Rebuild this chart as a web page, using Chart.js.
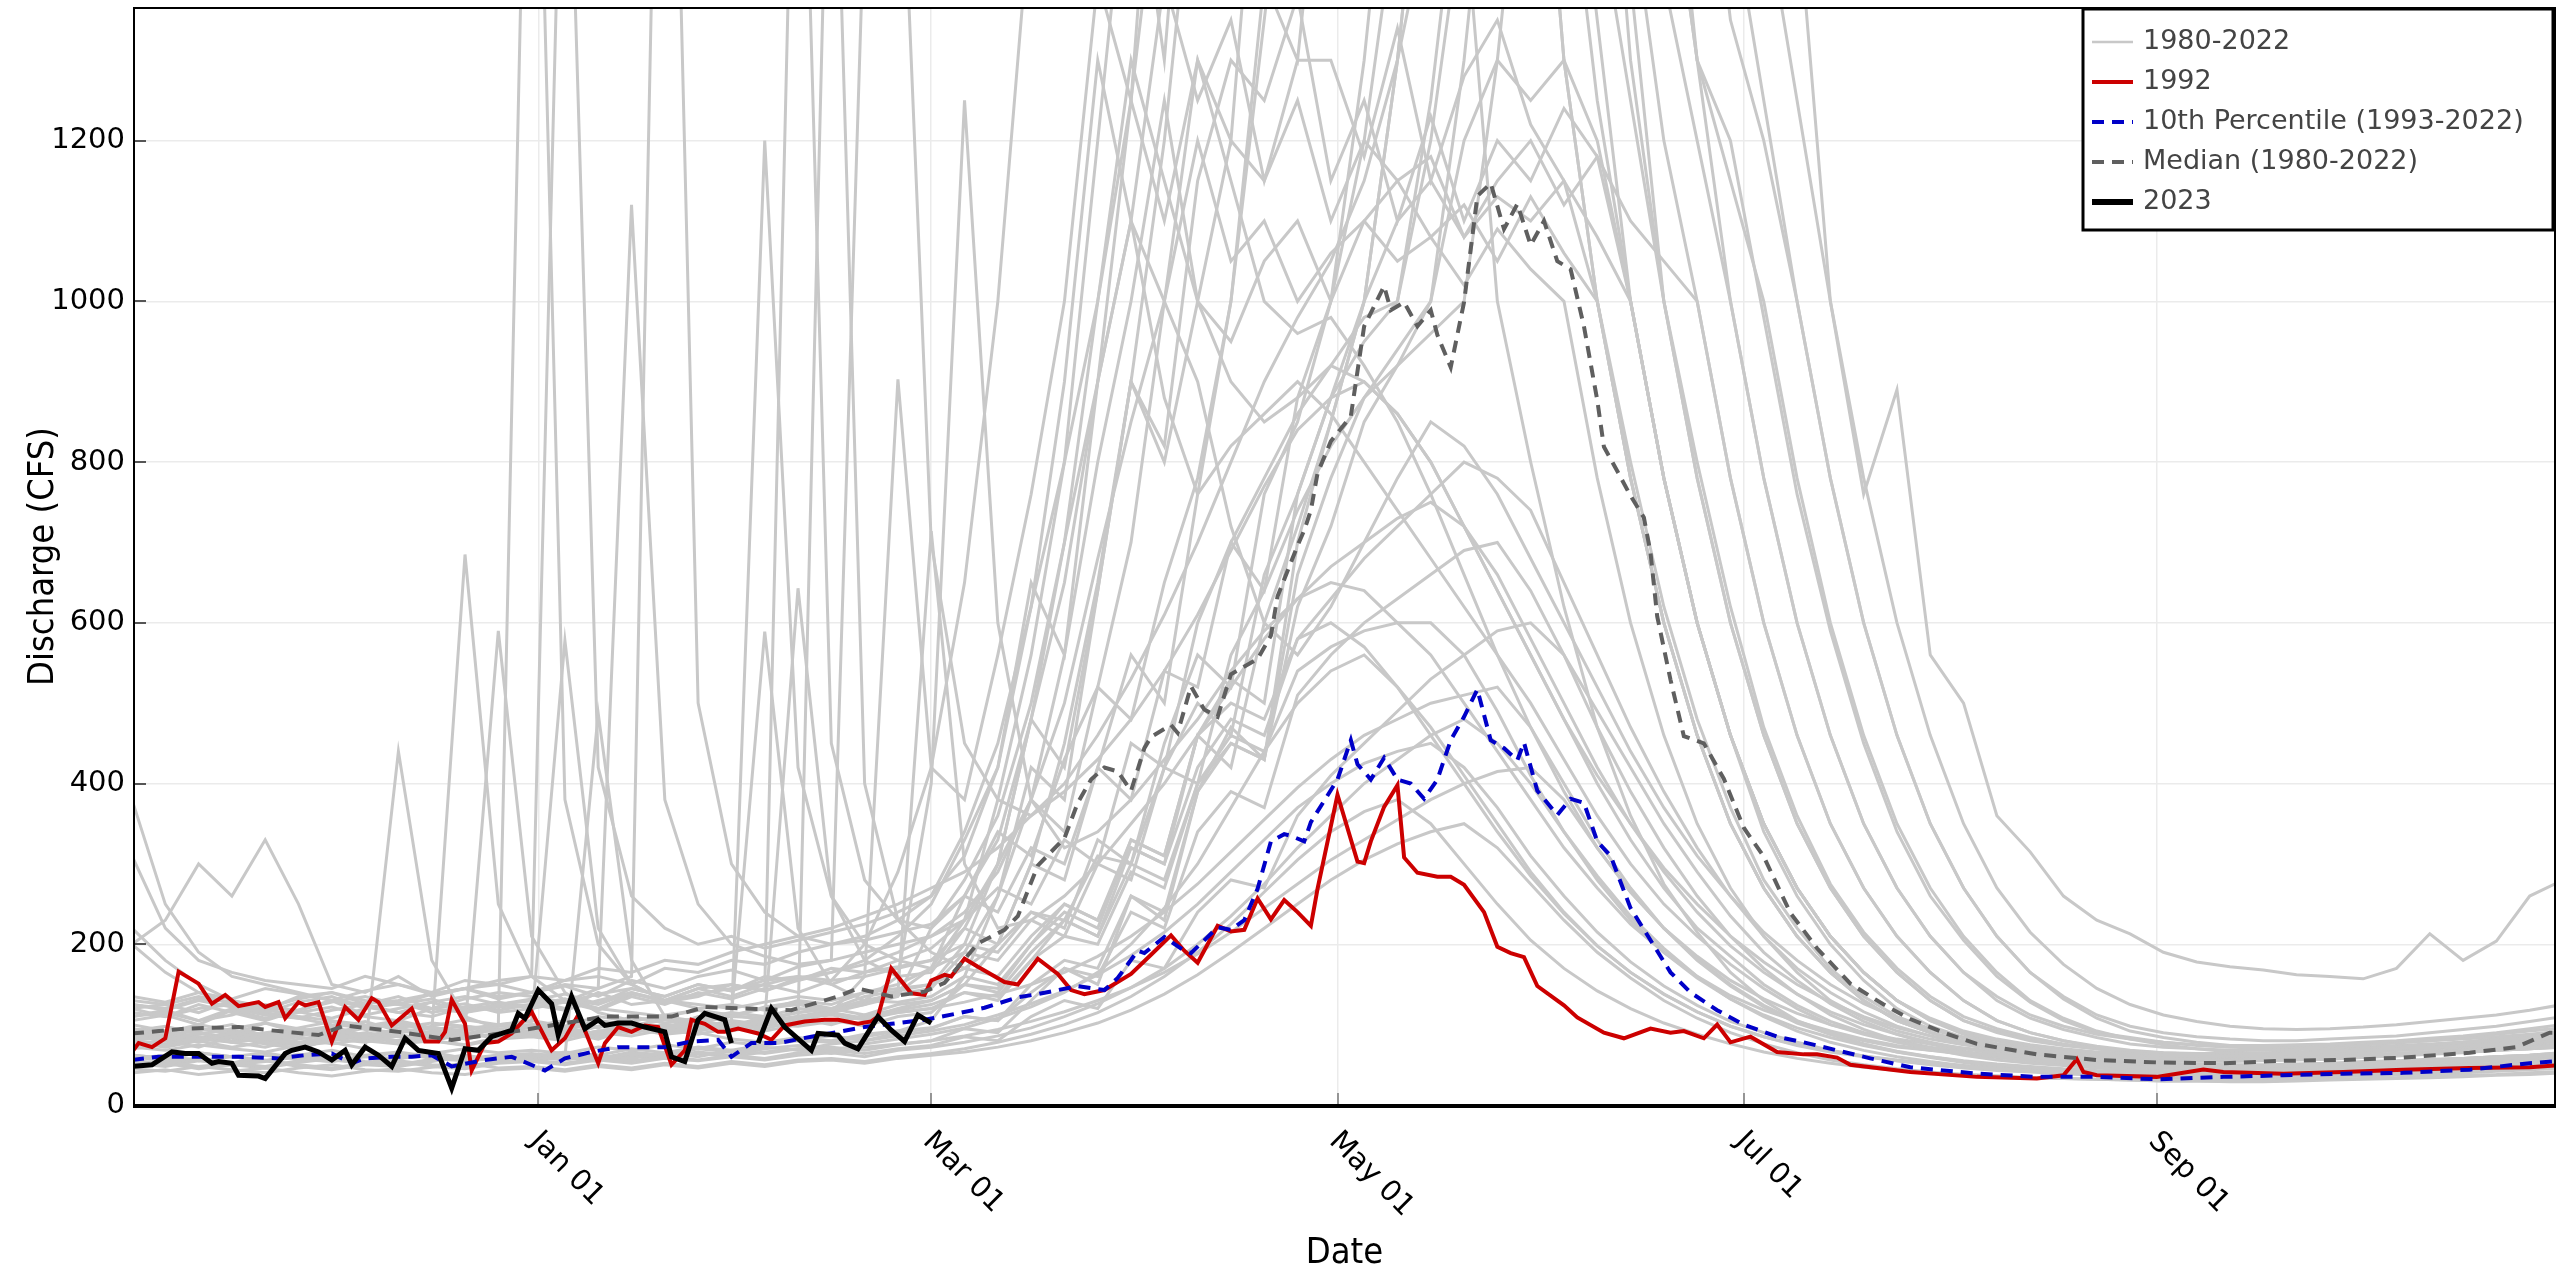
<!DOCTYPE html>
<html>
<head>
<meta charset="utf-8">
<title>Discharge hydrograph</title>
<script src="https://cdn.jsdelivr.net/npm/chart.js@4.4.0/dist/chart.umd.min.js"></script>
<style>
  html, body { margin: 0; padding: 0; background: #fff; }
  canvas { display: block; }
</style>
</head>
<body>
<canvas id="flowChart" width="2560" height="1271"></canvas>
<script>
// x values are days counted from Nov 01
const tickDays = [61, 120, 181, 242, 304];
const tickLabels = ['Jan 01', 'Mar 01', 'May 01', 'Jul 01', 'Sep 01'];
const yTicks = [0, 200, 400, 600, 800, 1000, 1200];
const legendLabels = ['1980-2022', '1992', '10th Percentile (1993-2022)', 'Median (1980-2022)', '2023'];

// every 5 days for the 1980-2022 traces
const grayDays = [0,5,10,15,20,25,30,35,40,45,50,55,60,65,70,75,80,85,90,95,100,105,110,115,120,125,130,135,140,145,150,155,160,165,170,175,180,185,190,195,200,205,210,215,220,225,230,235,240,245,250,255,260,265,270,275,280,285,290,295,300,305,310,315,320,325,330,335,340,345,350,355,360,365];

const grayFlows = [
  [380,250,190,160,150,140,130,125,135,120,115,125, 130,120,140,125,130,145,135,150,160,155,200,290, 420,650,1000,1500,2100,1800,2400,2000,2600,2900,2500,3000, 3200,2800,3000,2200,1500,1000,800,620,470,360,275,215, 165,130,105,90,80,72,68,65,62,60,58,57, 56,55,55,56,57,58,60,62,64,66,68,70,72,74],
  [85,80,90,78,82,88,95,84,80,92,88,85, 90,95,88,100,96,105,98,110,104,115,160,903, 420,380,560,760,1000,1400,1250,1800,2000,2400,2200,2600, 2800,2700,2500,2600,2400,2200,1800,1300,1000,780,600,460, 350,270,210,165,130,105,90,80,72,68,65,62, 60,58,57,56,57,58,60,61,63,65,68,70,72,75],
  [120,110,125,115,105,118,130,112,120,128,115,122, 125,118,130,140,128,135,150,142,155,165,180,210, 250,330,420,620,900,1300,1100,1400,1250,1350,1150,1300, 1300,1180,1340,1150,1280,1350,1220,1150,1000,780,600,460, 350,270,210,165,130,105,90,80,74,70,66,64, 62,60,60,61,62,64,66,68,70,72,74,76,80,84],
  [75,80,72,85,78,70,82,88,76,80,90,84, 88,92,85,96,90,100,94,105,110,115,125,135, 220,260,340,310,430,520,480,650,780,1000,1350,1700, 2500,2800,3000,2900,2600,2200,1800,1300,1000,800,620,480, 370,280,220,170,135,110,95,84,76,70,66,63, 58,56,55,55,56,57,58,60,62,64,66,68,70,72],
  [200,230,300,260,330,250,150,140,160,135,145,150, 140,155,160,150,170,165,180,175,190,200,210,230, 260,310,420,650,560,900,1250,1600,1400,1900,2200,2500, 2200,2500,2700,2600,2800,2400,2000,1600,1250,1000,780,600, 460,350,270,210,165,130,108,92,82,75,70,66, 64,62,62,63,64,65,67,70,72,75,78,80,84,88],
  [95,88,92,100,85,90,96,104,92,88,95,100, 98,105,96,110,102,108,115,110,120,118,125,140, 170,260,330,480,420,640,900,1200,1600,1400,1900,2300, 2600,2300,2600,2400,2200,2300,2000,1700,1350,1000,780,600, 460,350,270,210,165,130,105,90,80,72,68,65, 62,60,58,58,60,62,63,65,68,70,72,75,78,82],
  [60,55,58,52,62,57,54,60,65,58,55,62, 60,66,62,70,65,72,68,75,80,78,85,92, 105,160,260,420,380,640,900,820,1150,1300,1250,1380, 1150,1250,1100,1230,1100,1200,1150,1240,1180,1000,780,600, 460,340,260,200,155,120,98,84,74,66,60,56, 52,50,48,47,48,49,50,52,54,55,57,58,60,62],
  [125,118,130,122,115,128,135,120,126,132,118,125, 130,138,126,145,135,150,142,160,155,170,165,180, 195,230,300,380,340,520,700,1000,1300,1200,1700,2100, 2300,2100,2500,2800,3000,2800,2500,2200,1800,1400,1000,780, 600,460,350,270,210,165,130,105,90,80,74,70, 67,65,64,64,65,66,68,70,72,75,78,82,86,90],
  [80,85,78,90,84,75,88,82,95,90,85,100, 2000,380,200,150,130,120,125,118,130,125,140,150, 170,230,380,560,800,1200,1600,1300,1800,2000,1900,2100, 1600,1900,2200,2400,2300,2100,1900,1700,1500,1250,1000,800, 620,470,360,275,215,170,135,110,95,84,76,70, 66,63,61,60,61,62,64,66,68,70,72,75,78,80],
  [110,115,105,120,112,108,118,125,115,110,122,128, 120,132,125,140,130,138,145,150,140,155,160,170, 180,220,200,300,280,420,560,500,760,1000,1400,1300, 1700,2000,2200,2600,2900,3100,2800,2300,1800,1300,1000,780, 600,460,350,270,210,165,130,105,92,82,75,70, 66,64,63,62,63,64,66,68,70,72,75,78,82,86],
  [100,92,96,88,102,95,90,98,105,96,92,100, 105,98,110,104,112,118,110,122,128,120,135,142, 150,200,300,480,700,1000,1300,1150,1000,1200,1150,1250, 1100,1200,1150,1180,1080,1150,1200,1120,1180,1100,1050,1000, 780,600,460,350,270,210,165,130,105,90,80,73, 68,65,63,62,62,63,64,66,68,70,72,74,76,80],
  [70,75,80,72,78,85,76,82,88,80,75,84, 86,90,82,95,88,92,100,95,105,1800,400,230, 190,170,200,240,220,330,300,450,560,520,760,850, 1000,1300,1700,2200,2600,2800,2600,2300,1900,1500,1200,1000, 780,600,460,350,270,210,165,130,105,90,80,72, 66,62,60,58,58,59,60,62,64,66,68,70,72,75],
  [120,125,115,130,122,118,128,135,125,120,132,140, 135,128,145,1120,380,250,200,185,175,180,190,200, 210,230,270,250,330,300,450,420,600,700,640,880, 1000,1200,1500,1900,2300,2700,3000,2800,2500,2100,1700,1300, 1000,780,600,460,350,270,210,165,135,112,98,88, 82,78,75,74,74,75,76,78,80,83,86,90,95,100],
  [85,90,82,78,88,92,80,86,94,88,82,90, 92,86,98,94,100,96,105,100,110,115,108,120, 130,150,140,190,230,210,320,300,460,420,600,720, 850,1000,1300,1700,2100,2500,2700,2500,2200,1800,1400,1200, 1000,780,600,460,350,270,210,165,130,108,94,84, 76,72,70,68,68,69,70,72,74,76,78,82,85,88],
  [55,52,58,50,54,60,56,52,58,62,55,58, 60,56,62,58,65,60,68,64,70,72,68,75, 80,95,90,130,170,150,260,230,390,470,430,700, 850,1000,1300,1700,2000,2300,2500,2400,2200,1900,1600,1300, 1150,1000,780,600,460,350,270,210,165,130,108,92, 82,75,70,66,64,63,62,62,63,64,66,68,70,72],
  [90,84,95,88,82,92,98,86,90,96,88,94, 98,92,105,100,96,110,104,1200,420,260,200,180, 170,190,180,230,210,300,280,420,500,460,660,760, 880,950,1000,1250,1600,2000,2400,2600,2400,2000,1600,1300, 1200,980,760,590,450,340,260,205,160,128,105,90, 84,78,74,72,71,72,73,75,77,80,82,85,88,92],
  [130,125,135,128,120,132,140,130,125,138,145,135, 140,150,145,160,2200,500,300,240,210,200,205,215, 225,260,240,320,300,420,380,540,520,700,780,860, 920,980,1000,1200,1500,1900,2300,2700,3000,2800,2400,2000, 1500,1250,1000,780,600,460,350,270,210,165,135,112, 98,90,85,82,80,80,82,84,86,90,94,98,104,110],
  [75,80,85,78,72,82,88,80,76,85,90,82, 88,84,92,96,90,98,94,102,108,100,112,118, 125,140,135,180,210,200,290,270,400,450,430,620, 720,850,920,1000,1300,1700,2100,2500,2700,2500,2100,1700, 1350,1200,1000,780,600,460,350,270,210,165,132,108, 92,84,78,74,72,72,73,75,78,80,84,88,92,96],
  [115,110,120,125,112,118,130,122,115,128,135,125, 132,128,138,145,135,150,142,155,160,150,165,172, 180,200,190,240,230,310,300,420,400,560,640,740, 820,880,920,960,1000,1300,1700,2100,2500,2800,2600,2300, 1900,1500,1250,1000,780,600,460,350,270,215,175,145, 125,112,104,98,95,94,95,97,100,104,108,112,118,125],
  [78,72,80,85,76,70,82,78,86,80,74,82, 85,80,90,86,94,88,96,92,100,106,98,110, 115,150,200,300,450,650,900,800,1000,950,1050,1100, 1000,1100,1150,1080,1120,1050,1130,1060,1000,780,600,460, 350,270,210,165,130,105,90,78,70,64,60,57, 54,52,51,50,50,51,52,54,55,57,58,60,62,65],
  [105,112,100,118,108,115,122,110,105,120,126,115, 120,128,118,135,125,140,132,145,1900,450,280,230, 220,280,360,500,700,900,1100,1000,1200,1050,1100,1000, 1060,1100,1050,1080,1020,1090,1040,1000,780,600,460,350, 270,210,165,130,108,92,82,75,70,66,63,60, 58,57,56,56,57,58,60,62,64,66,68,70,73,76],
  [92,98,88,95,102,90,86,96,100,94,88,98, 100,95,104,98,108,102,112,106,115,120,112,125, 130,150,145,200,240,220,330,310,460,530,500,760, 880,1000,1100,1150,1080,1130,1100,1150,1080,1000,780,600, 460,350,270,210,165,130,106,90,80,72,67,63, 60,58,57,56,57,58,59,61,63,65,67,70,72,75],
  [62,58,65,60,55,62,68,60,58,64,70,65, 68,64,72,68,75,70,78,74,82,86,80,90, 95,110,105,150,180,170,260,240,390,450,430,660, 780,880,940,1000,1200,1300,1250,1300,1200,1000,780,600, 460,350,270,210,165,130,105,88,76,68,62,58, 54,52,50,49,49,50,51,52,54,56,58,60,62,64],
  [310,220,180,165,155,150,145,160,150,140,155,150, 160,155,170,165,180,175,190,200,210,220,235,250, 270,290,320,360,400,460,530,610,700,800,900,980, 1050,1150,1300,1500,1800,2200,2600,3000,3300,3500,3200,2800, 2400,2000,1500,1000,760,890,560,500,360,315,260,230, 213,190,178,172,168,162,160,157,170,213,180,204,260,280],
  [82,88,80,92,86,78,84,90,85,80,88,94, 90,96,88,100,94,102,98,106,643,260,180,160, 165,220,300,480,650,900,1100,880,760,820,860,900, 860,800,740,680,620,560,500,430,360,300,250,210, 175,145,120,100,88,78,70,64,60,56,53,50, 48,46,45,44,44,45,46,48,50,52,54,56,58,60],
  [110,118,105,112,125,116,108,120,128,115,122,118, 125,132,120,138,130,145,150,142,158,165,175,190, 210,240,290,380,500,680,850,1000,900,720,600,560, 620,700,780,850,820,760,680,600,520,440,370,310, 260,215,180,150,126,108,94,84,76,70,65,61, 58,56,55,54,55,56,57,59,61,63,65,68,70,73],
  [95,90,100,92,88,96,104,94,90,98,106,100, 104,578,220,150,130,125,120,128,135,130,140,145, 150,170,160,210,250,230,320,300,420,480,460,580, 630,680,720,760,800,780,740,650,560,470,390,320, 260,210,170,140,116,98,86,76,68,62,58,55, 52,50,49,48,48,49,50,52,54,56,58,60,62,65],
  [58,62,55,60,65,58,54,62,66,60,56,62, 64,60,487,180,110,90,82,78,84,80,88,92, 96,110,105,140,170,160,240,220,340,390,370,510, 560,600,630,660,690,700,640,560,470,390,320,260, 210,170,138,112,94,80,70,62,56,52,49,46, 44,42,41,40,40,41,42,43,45,47,48,50,52,54],
  [88,92,85,80,90,95,86,82,94,90,685,250, 160,130,120,115,110,118,112,120,125,118,130,138, 145,190,260,380,560,800,1000,1250,1000,900,850,880, 920,900,860,800,720,640,560,480,400,330,270,220, 185,150,124,104,90,80,72,66,61,57,54,51, 49,47,46,45,45,46,47,49,51,53,55,57,60,62],
  [125,120,132,128,118,135,140,126,130,138,145,132, 140,148,135,155,145,160,168,155,172,180,1500,1700, 700,450,380,360,390,430,480,540,610,690,770,840, 880,900,860,800,720,640,560,480,410,350,295,250, 210,178,150,128,110,96,86,78,72,67,63,60, 58,56,55,55,56,57,58,60,62,64,67,70,73,76],
  [220,180,150,130,120,110,105,100,96,102,98,94, 100,96,104,98,106,102,110,108,115,120,128,140, 714,300,220,230,260,300,350,400,460,520,580,630, 670,700,730,750,720,660,580,500,420,350,290,240, 198,165,138,116,100,88,78,70,64,60,56,53, 50,48,47,46,46,47,48,50,52,54,56,58,60,63],
  [80,76,84,88,80,74,82,86,78,84,90,85, 88,84,92,90,96,92,100,104,110,118,130,160, 400,1250,600,380,320,340,380,430,480,540,590,630, 650,640,600,560,500,440,380,320,270,225,190,160, 136,118,104,92,82,74,68,63,59,55,52,50, 48,46,45,44,44,45,46,47,49,51,53,55,57,60],
  [50,54,48,52,56,50,46,52,55,50,48,54, 56,52,58,55,60,56,62,58,65,68,64,70, 74,85,80,110,130,120,180,170,240,280,270,360, 410,450,490,530,560,590,600,560,490,420,350,290, 235,190,155,126,104,88,76,67,60,55,51,48, 45,43,42,41,41,42,43,44,46,48,50,52,54,56],
  [135,128,140,132,145,138,130,142,150,138,145,155, 160,1800,420,260,220,200,210,195,205,215,225,240, 260,340,450,620,800,1000,1250,1100,1300,1150,1000,960, 980,920,850,760,660,560,470,390,320,265,220,185, 155,132,114,100,90,82,76,71,67,64,61,59, 57,56,55,55,56,57,59,61,63,66,69,72,76,80],
  [55,50,58,52,48,55,60,54,50,57,62,56, 58,62,56,64,60,66,62,70,74,68,76,82, 88,96,108,122,140,165,200,245,300,370,440,500, 540,560,520,470,410,350,290,240,198,165,138,116, 98,85,74,66,60,55,51,48,45,43,41,40, 38,37,36,36,36,37,38,39,40,42,43,45,47,49],
  [48,52,45,50,55,48,44,50,54,48,45,52, 54,50,56,52,58,55,60,56,62,65,60,68, 72,78,86,96,110,126,146,170,200,235,275,320, 360,400,430,460,480,450,400,340,285,235,195,160, 132,110,92,78,68,60,54,49,45,42,40,38, 36,35,34,34,34,35,36,37,38,40,41,43,45,47],
  [62,58,65,60,55,63,58,52,60,66,58,62, 60,64,58,66,62,70,66,72,68,76,80,86, 92,100,112,126,142,162,186,215,250,290,330,370, 400,425,440,450,420,370,310,260,215,178,148,124, 104,90,78,68,61,55,50,46,43,41,39,37, 35,34,33,33,33,34,35,36,37,39,40,42,44,46],
  [72,68,75,70,66,74,78,70,440,180,110,95, 88,92,86,94,90,96,92,100,98,104,110,115, 120,128,138,150,165,185,210,240,275,315,355,395, 430,460,480,500,510,520,470,400,330,270,220,180, 148,122,102,88,76,67,60,54,50,47,44,42, 40,39,38,38,38,39,40,41,43,45,47,49,51,54],
  [45,42,48,44,40,46,50,44,42,47,52,46, 48,44,50,46,52,48,54,50,56,58,54,60, 64,70,78,88,100,115,135,160,190,225,265,305, 340,365,380,350,300,250,205,170,142,120,102,88, 76,66,58,52,47,43,40,38,36,34,33,32, 31,30,30,29,29,30,31,32,33,34,35,37,38,40],
  [40,44,38,42,46,40,36,42,45,40,38,44, 46,42,48,44,50,46,52,48,54,56,52,58, 62,66,72,80,90,102,118,138,162,190,220,250, 280,305,325,340,350,320,275,230,190,158,130,108, 90,76,65,56,50,45,41,38,36,34,33,32, 31,30,30,30,30,31,32,33,34,36,37,38,40,42],
  [200,165,140,125,115,108,100,96,102,94,98,92, 96,90,98,94,100,96,104,100,108,112,106,115, 120,140,130,180,230,210,300,280,400,460,440,540, 570,590,600,600,560,490,410,340,280,230,190,158, 132,112,96,84,74,66,60,55,51,48,45,43, 42,41,40,40,40,41,42,43,45,47,49,51,53,56],
  [86,80,90,84,78,86,92,84,80,88,94,590, 210,140,115,105,110,104,112,589,220,150,130,128, 135,160,150,200,250,230,330,310,460,500,480,580, 600,570,520,460,400,340,285,238,198,165,138,116, 98,85,75,67,61,56,52,49,46,44,42,40, 39,38,37,37,37,38,39,40,42,44,46,48,50,52],
  [52,48,55,50,46,53,58,50,48,54,60,55, 56,60,54,62,58,64,60,66,70,64,72,76, 80,86,94,104,116,130,146,165,188,215,245,275, 305,330,355,380,400,415,420,380,320,265,220,182, 150,124,104,88,76,66,59,53,48,45,42,40, 38,37,36,36,36,37,38,39,40,42,44,46,48,50]
];

const days1992 = [0,1,3,5,7,10,12,14,16,19,20,22,23,25,26,28,30,32,34,36,37,39,42,44,46,47,48,50,51,53,55,57,60,63,65,67,68,70,71,73,75,77,79,81,83,84,86,88,89,91,94,96,98,101,104,106,109,111,112,114,117,119,120,122,123,125,127,131,133,136,139,141,143,146,150,153,156,158,160,163,165,167,169,171,173,175,177,178,181,184,185,186,188,190,191,193,196,198,200,203,205,207,209,211,215,217,221,224,228,231,233,236,238,240,243,247,251,253,256,258,267,277,286,290,292,293,295,304,311,314,323,332,341,351,360,365];
const flow1992 = [66,77,72,83,166,151,126,137,123,128,122,128,108,128,124,128,79,122,106,133,128,99,120,79,79,91,131,101,43,77,79,89,116,68,83,112,93,52,77,97,91,99,97,50,68,106,101,91,91,95,89,81,99,104,106,106,101,104,110,170,139,137,155,162,160,182,172,153,150,182,163,143,138,143,163,187,211,192,177,223,216,218,257,231,255,240,223,269,386,303,301,328,371,398,308,289,284,284,274,240,197,189,184,148,124,109,90,83,95,90,92,83,100,78,85,66,63,63,59,50,41,35,33,37,57,41,37,35,44,41,39,41,44,46,47,50];

const daysP10 = [0,4,9,16,22,26,30,33,35,39,42,45,48,53,57,62,65,69,73,76,80,84,88,90,93,97,102,106,110,114,119,124,128,133,136,139,142,146,148,151,152,155,158,159,163,165,167,169,171,173,174,176,177,181,183,184,186,188,190,192,194,196,198,200,202,204,206,208,209,211,214,216,218,220,222,225,228,231,234,238,242,247,251,256,261,267,277,286,295,304,314,323,332,341,351,360,365];
const flowP10 = [56,60,60,60,58,62,64,52,58,60,60,62,48,56,60,43,58,66,72,72,72,79,81,60,77,77,85,91,97,101,106,114,121,134,138,143,148,143,158,192,189,209,192,189,221,218,230,269,328,337,335,328,352,405,454,424,405,432,405,400,381,405,454,483,517,454,444,429,451,391,361,381,376,328,310,245,205,165,140,118,100,85,78,68,58,47,39,35,35,32,35,37,39,40,44,52,55];

const daysMedian = [0,8,16,28,32,40,48,57,71,81,86,99,106,109,114,119,122,127,131,133,136,140,142,144,146,148,150,152,153,156,157,159,161,163,165,169,171,172,175,176,177,178,180,183,185,188,189,191,193,195,196,198,200,202,204,206,208,210,212,214,216,218,220,221,223,225,227,228,229,231,233,236,239,242,245,249,253,258,263,267,272,277,286,295,304,314,323,332,341,351,358,363,365];
const flowMedian = [89,95,97,87,99,91,81,91,110,110,122,118,135,145,135,141,152,201,218,235,298,332,376,405,420,415,391,444,458,473,463,521,492,483,536,555,584,633,696,715,740,786,826,857,969,1019,989,999,969,989,958,918,999,1131,1147,1090,1121,1070,1100,1050,1040,969,877,819,789,758,731,687,608,529,459,450,406,345,309,239,195,151,125,107,90,76,63,56,53,52,55,56,59,65,72,90,90];

// 2023 so far, null marks the missing days
const days2023 = [0,3,6,8,10,12,13,15,16,19,20,23,24,26,28,30,32,33,35,37,39,41,43,46,48,50,52,54,57,58,59,61,63,64,66,68,70,71,73,75,77,80,81,83,85,86,89,90,92,94,96,98,102,103,106,107,109,112,114,116,118,120];
const flow2023 = [48,50,66,64,64,52,54,52,37,36,33,64,68,72,66,56,68,50,72,62,48,83,68,64,21,70,68,85,93,114,108,143,126,87,135,95,106,99,102,102,97,91,60,54,106,114,106,77,null,77,120,97,68,89,87,77,70,110,93,79,112,102];

function toPoints(days, values, name) {
    if (days.length !== values.length) {
        throw new Error(`${name}: ${days.length} days but ${values.length} values`);
    }
    return days.map((d, i) => ({ x: d, y: values[i] }));
}

const textFont = '"DejaVu Sans", Verdana, sans-serif';
const titleFont = '"DejaVu Sans Condensed", "DejaVu Sans", sans-serif';

const datasets = [
    {
        label: '2023',
        data: toPoints(days2023, flow2023, '2023'),
        borderColor: '#000000',
        borderWidth: 5,
        spanGaps: false,
        order: 0
    },
    {
        label: 'Median (1980-2022)',
        data: toPoints(daysMedian, flowMedian, 'median'),
        borderColor: '#5f5f5f',
        borderWidth: 4,
        borderDash: [12, 8],
        order: 1
    },
    {
        label: '10th Percentile (1993-2022)',
        data: toPoints(daysP10, flowP10, 'p10'),
        borderColor: '#0000c8',
        borderWidth: 4,
        borderDash: [12, 8],
        order: 2
    },
    {
        label: '1992',
        data: toPoints(days1992, flow1992, '1992'),
        borderColor: '#cc0000',
        borderWidth: 4,
        order: 3
    }
];

grayFlows.forEach((row, i) => {
    datasets.push({
        label: '1980-2022',
        data: toPoints(grayDays, row, 'gray row ' + i),
        borderColor: '#c8c8c8',
        borderWidth: 3,
        order: 4
    });
});

// frame, inward ticks, slanted date labels and the boxed legend
const decorations = {
    id: 'decorations',
    afterDatasetsDraw(chart) {
        const { ctx, chartArea: { left, top, right, bottom }, scales: { x, y } } = chart;
        ctx.save();

        ctx.lineWidth = 2;
        ctx.strokeStyle = '#555';
        y.ticks.forEach(t => {
            const py = Math.round(y.getPixelForValue(t.value));
            ctx.beginPath();
            ctx.moveTo(left, py);
            ctx.lineTo(left + 12, py);
            ctx.stroke();
        });
        ctx.strokeStyle = '#777';
        ctx.lineWidth = 1.5;
        x.ticks.forEach(t => {
            const px = Math.round(x.getPixelForValue(t.value));
            ctx.beginPath();
            ctx.moveTo(px, bottom);
            ctx.lineTo(px, bottom - 12);
            ctx.stroke();
        });

        ctx.strokeStyle = '#000';
        ctx.lineWidth = 2;
        ctx.strokeRect(left, top, right - left, bottom - top);
        ctx.lineWidth = 4;
        ctx.beginPath();
        ctx.moveTo(left - 1, bottom + 1);
        ctx.lineTo(right + 1, bottom + 1);
        ctx.stroke();

        ctx.fillStyle = '#000';
        ctx.font = '29px ' + textFont;
        ctx.textAlign = 'left';
        ctx.textBaseline = 'middle';
        tickDays.forEach((d, i) => {
            const px = x.getPixelForValue(d);
            ctx.save();
            ctx.translate(px - 4, bottom + 32);
            ctx.rotate(Math.PI / 4);
            ctx.fillText(tickLabels[i], 0, 0);
            ctx.restore();
        });

        const lx = right - 472, ly = top + 1, lw = 470, lh = 221;
        ctx.fillStyle = '#fff';
        ctx.fillRect(lx, ly, lw, lh);
        ctx.lineWidth = 3;
        ctx.strokeStyle = '#000';
        ctx.strokeRect(lx, ly, lw, lh);
        ctx.font = '27px ' + textFont;
        legendLabels.forEach((label, i) => {
            const ds = chart.data.datasets.find(d => d.label === label);
            const cy = ly + 33 + i * 40;
            ctx.strokeStyle = ds.borderColor;
            ctx.lineWidth = label === '2023' ? 6 : (label === '1980-2022' ? 2.5 : ds.borderWidth);
            ctx.setLineDash(ds.borderDash || []);
            ctx.beginPath();
            ctx.moveTo(lx + 9, cy);
            ctx.lineTo(lx + 50, cy);
            ctx.stroke();
            ctx.setLineDash([]);
            ctx.fillStyle = '#444';
            ctx.fillText(label, lx + 60, cy);
        });

        ctx.restore();
    }
};

const flowChart = new Chart(document.getElementById('flowChart'), {
    type: 'line',
    data: { datasets },
    options: {
        responsive: false,
        devicePixelRatio: 1,
        animation: false,
        events: [],
        layout: { padding: { top: 8, right: 5, left: 0, bottom: 0 } },
        elements: {
            point: { radius: 0 },
            line: { tension: 0, fill: false }
        },
        plugins: {
            legend: { display: false },
            tooltip: { enabled: false }
        },
        scales: {
            x: {
                type: 'linear',
                min: 0.3,
                max: 363.8,
                afterBuildTicks: scale => {
                    scale.ticks = tickDays.map(v => ({ value: v }));
                },
                afterFit: scale => {
                    scale.height = 166;
                    scale.paddingLeft = 0;
                    scale.paddingRight = 0;
                },
                ticks: { display: false },
                grid: { color: '#ebebeb', lineWidth: 1.5, drawTicks: false },
                border: { display: false },
                title: {
                    display: true,
                    text: 'Date',
                    color: '#000',
                    font: { family: titleFont, size: 36, lineHeight: 1 },
                    padding: { top: 0, bottom: -1 }
                }
            },
            y: {
                type: 'linear',
                min: 0,
                max: 1365,
                afterBuildTicks: scale => {
                    scale.ticks = yTicks.map(v => ({ value: v }));
                },
                afterFit: scale => {
                    scale.width = 134;
                    scale.paddingTop = 0;
                    scale.paddingBottom = 0;
                },
                ticks: {
                    padding: 9,
                    color: '#000',
                    font: { family: textFont, size: 29 },
                    callback: value => String(value)
                },
                grid: { color: '#ebebeb', lineWidth: 1.5, drawTicks: false },
                border: { display: false },
                title: {
                    display: true,
                    text: 'Discharge (CFS)',
                    color: '#000',
                    font: { family: titleFont, size: 36 },
                    padding: { top: 22, bottom: 0 }
                }
            }
        }
    },
    plugins: [decorations]
});
</script>
</body>
</html>
